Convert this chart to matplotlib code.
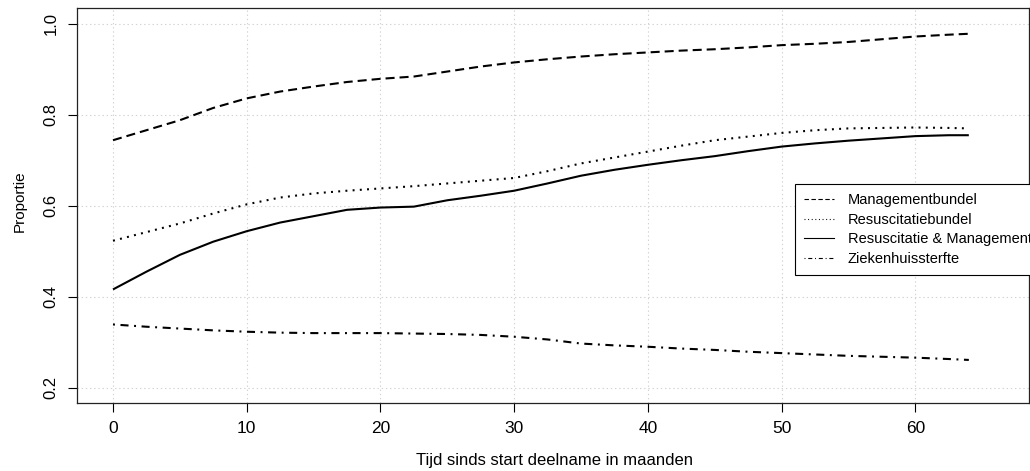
import matplotlib
matplotlib.use('Agg')
import matplotlib.pyplot as plt
from matplotlib.lines import Line2D

# months since start of participation
months = [0, 2.5, 5, 7.5, 10, 12.5, 15, 17.5, 20, 22.5, 25, 27.5, 30, 32.5,
          35, 37.5, 40, 42.5, 45, 47.5, 50, 52.5, 55, 57.5, 60, 62.5, 64]

management = [0.744, 0.766, 0.788, 0.815, 0.836, 0.851, 0.862, 0.872, 0.879,
              0.884, 0.895, 0.906, 0.915, 0.922, 0.928, 0.933, 0.937, 0.941,
              0.944, 0.948, 0.953, 0.956, 0.960, 0.966, 0.972, 0.976, 0.978]
resuscitatie = [0.523, 0.542, 0.561, 0.583, 0.603, 0.618, 0.627, 0.633, 0.638,
                0.643, 0.649, 0.655, 0.661, 0.676, 0.693, 0.706, 0.719, 0.732,
                0.744, 0.752, 0.760, 0.766, 0.770, 0.771, 0.772, 0.771, 0.770]
beide = [0.416, 0.455, 0.492, 0.521, 0.544, 0.563, 0.577, 0.591, 0.596,
         0.598, 0.612, 0.622, 0.633, 0.649, 0.666, 0.679, 0.690, 0.700,
         0.709, 0.720, 0.730, 0.737, 0.743, 0.748, 0.753, 0.755, 0.755]
sterfte = [0.339, 0.334, 0.330, 0.326, 0.323, 0.321, 0.320, 0.320, 0.320,
           0.319, 0.318, 0.316, 0.312, 0.306, 0.297, 0.293, 0.290, 0.286,
           0.283, 0.279, 0.276, 0.273, 0.270, 0.268, 0.266, 0.263, 0.261]

labels = ['Managementbundel', 'Resuscitatiebundel',
          'Resuscitatie & Management', 'Ziekenhuissterfte']
xticks = [0, 10, 20, 30, 40, 50, 60]
yticks = [0.2, 0.4, 0.6, 0.8, 1.0]

plt.rcParams['font.family'] = ['Liberation Sans', 'DejaVu Sans']
plt.rcParams['lines.scale_dashes'] = False

W, H = 1030, 471
fig = plt.figure(figsize=(W / 100, H / 100), dpi=100)
ax = fig.add_axes([77.3 / W, 1 - 402.7 / H, (1029 - 77.3) / W, (402.7 - 8.3) / H])

styles = [(0, (6.5, 3.6)), (0, (1.4, 3.8)), '-', (0, (1.4, 4.0, 5.8, 4.0))]
series = [management, resuscitatie, beide, sterfte]
for vals, ls in zip(series, styles):
    ax.plot(months, vals, color='black', lw=1.5, linestyle=ls,
            dash_capstyle='butt', solid_capstyle='butt')

ax.set_xlim(-2.67, 68.5)
ax.set_ylim(0.167, 1.034)
ax.set_xticks(xticks)
ax.set_yticks(yticks)
ax.set_xticklabels([str(t) for t in xticks])
ax.set_yticklabels([f'{t:.1f}' for t in yticks])
ax.grid(True, color='#d3d3d3', linestyle=(0, (1, 2)), lw=0.8)
ax.set_axisbelow(True)

for sp in ax.spines.values():
    sp.set_color('#222222')
    sp.set_linewidth(0.9)
ax.tick_params(axis='x', length=6.5, width=0.8, pad=6.5, labelsize=12.5)
ax.tick_params(axis='y', length=6.5, width=0.8, pad=7, labelsize=12,
               labelrotation=90)
for lbl in ax.get_yticklabels():
    lbl.set_va('center')

fig.text(555 / W, 1 - 460 / H, 'Tijd sinds start deelname in maanden',
         ha='center', va='center', fontsize=12)
fig.text(20 / W, 1 - 201 / H, 'Proportie', ha='center', va='center',
         rotation=90, fontsize=11)

legend_styles = [(0, (3.2, 1.8)), (0, (0.7, 1.9)), '-', (0, (0.7, 2.0, 2.9, 2.0))]
handles = [Line2D([], [], color='black', lw=0.8, linestyle=ls) for ls in legend_styles]
leg = fig.legend(handles, labels, loc='upper left',
                 bbox_to_anchor=(795 / W, 1 - 184 / H), fontsize=10.5,
                 frameon=True, fancybox=False, framealpha=1, edgecolor='black',
                 handlelength=2.05, handletextpad=0.9, labelspacing=0.37,
                 borderpad=0.65, borderaxespad=0)
leg.get_frame().set_linewidth(0.8)

fig.savefig('out.png', dpi=100)
